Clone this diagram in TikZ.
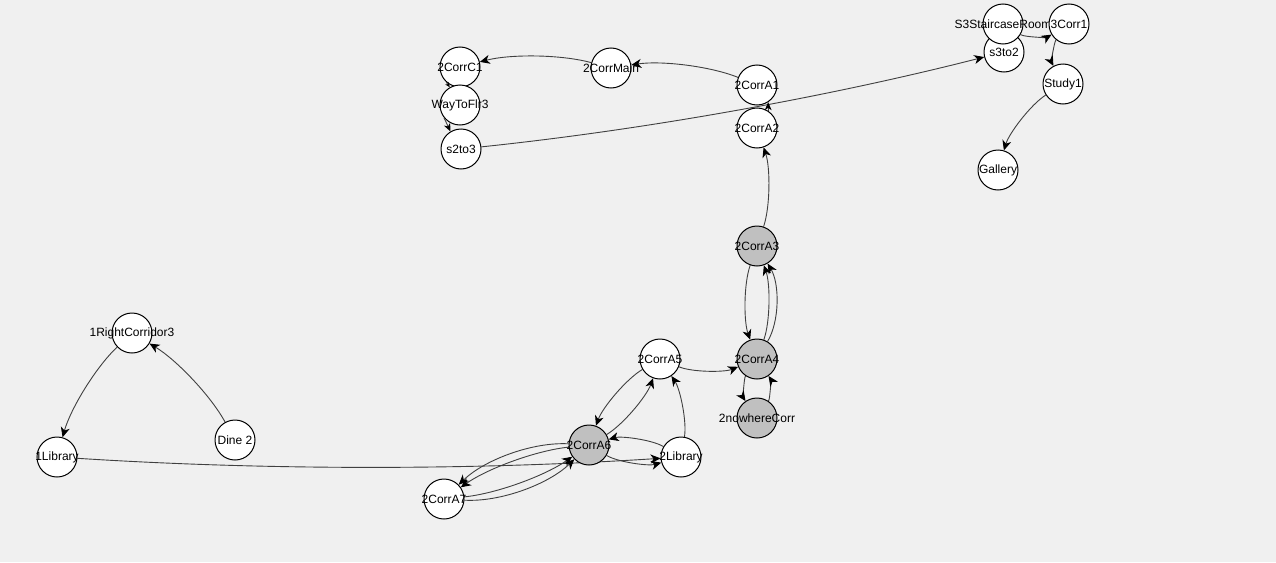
\documentclass[tikz,border=0pt]{standalone}
\usepackage{fontspec}
\setmainfont{Liberation Sans}
\usetikzlibrary{calc,arrows.meta}
\pgfdeclarelayer{bg}
\pgfdeclarelayer{edges}
\pgfsetlayers{bg,edges,main}
\definecolor{canvas}{HTML}{F0F0F0}
\definecolor{visited}{HTML}{C0C0C0}
\begin{document}
\begin{tikzpicture}[x=1pt,y=-1pt,
  lbl/.style={font=\fontsize{12}{14}\selectfont,text=black,inner sep=0pt},
  room/.style={circle,draw=black,line width=1pt,fill=white,minimum size=40pt,
    inner sep=0pt,label={[lbl]center:#1}},
  hot/.style={room=#1,fill=visited},
  wire/.style={draw=black!75,line width=0.9pt},
  % arc-like link: quadratic curve through a control point set off to the right
  lk/.style={wire,
    -{Stealth[length=10pt,width=9pt,inset=3pt,color=black]},
    to path={.. controls
      ($(\tikztostart)!2/3!($(\tikztostart)!0.5!(\tikztotarget)!#1!-90:(\tikztotarget)$)$)
      and
      ($(\tikztotarget)!2/3!($(\tikztostart)!0.5!(\tikztotarget)!#1!-90:(\tikztotarget)$)$)
      .. (\tikztotarget)}},
  lk/.default=20pt,
  % short link between touching rooms
  stub/.style={wire,-{Stealth[length=#1,width=0.85*#1,inset=0.3*#1,color=black]}},
  stub/.default=8pt]

\begin{pgfonlayer}{bg}
  \fill[canvas] (0,0) rectangle (1276,562);
\end{pgfonlayer}
\useasboundingbox (0,0) rectangle (1276,562);

% second floor, upper part
\node[room=2CorrC1]   (C1)   at (460,67)  {};
\node[room=WayToFlr3] (Way)  at (460,105) {};
\node[room=s2to3]     (S23)  at (461,149) {};
\node[room=2CorrMain] (Main) at (611,68)  {};
\node[room=2CorrA1]   (A1)   at (757,85)  {};
\node[room=2CorrA2]   (A2)   at (757,128) {};

% third floor
\node[room=s3to2]           (S32)   at (1004,52) {};
\node[room=S3StaircaseRoom] (S3)    at (1003,24) {};
\node[room=3Corr1]          (Corr1) at (1069,24) {};
\node[room=Study1]          (Study) at (1063,84) {};
\node[room=Gallery]         (Gal)   at (998,170) {};

% second floor, lower part
\node[hot=2CorrA3]      (A3)   at (757,246) {};
\node[hot=2CorrA4]      (A4)   at (757,359) {};
\node[hot=2nowhereCorr] (Nowh) at (757,418) {};
\node[room=2CorrA5]     (A5)   at (660,359) {};
\node[hot=2CorrA6]      (A6)   at (589,445) {};
\node[room=2Library]    (Lib2) at (681,457) {};
\node[room=2CorrA7]     (A7)   at (444,499) {};

% first floor
\node[room=1RightCorridor3] (RC3)  at (132,333) {};
\node[room=1Library]        (Lib1) at (57,457)  {};
\node[room={Dine 2}]        (Dine) at (235,440) {};

\begin{pgfonlayer}{edges}
  \draw[lk] (A1) to (Main);
  \draw[lk] (Main) to (C1);
  \draw[lk] (S23) to (S32);
  \draw[lk] (A3) to (A2);
  \draw[lk] (A3) to (A4);
  \draw[lk] (A4) to (A3);
  \draw[lk=34pt] (A4) to (A3);
  \draw[lk] (A4) to (Nowh);
  \draw[lk] (Nowh) to (A4);
  \draw[lk] (A5) to (A4);
  \draw[lk] (A5) to (A6);
  \draw[lk] (A6) to (A5);
  \draw[lk] (Lib2) to (A5);
  \draw[lk] (Lib2) to (A6);
  \draw[lk] (A6) to (Lib2);
  \draw[lk] (Lib1) to (Lib2);
  \draw[lk] (A6) to (A7);
  \draw[lk=34pt] (A6) to (A7);
  \draw[lk] (A7) to (A6);
  \draw[lk=34pt] (A7) to (A6);
  \draw[lk] (RC3) to (Lib1);
  \draw[lk] (Dine) to (RC3);
  \draw[lk] (S3) to (Corr1);
  \draw[lk] (Corr1) to (Study);
  \draw[lk] (Study) to (Gal);
\end{pgfonlayer}

% links between touching rooms, drawn above the circles
\draw[stub=5pt] (C1.228) -- (Way.120);
\draw[stub] (Way.219) -- (S23.121);
\draw[stub] (A2.57) -- (A1.303);
\end{tikzpicture}
\end{document}
